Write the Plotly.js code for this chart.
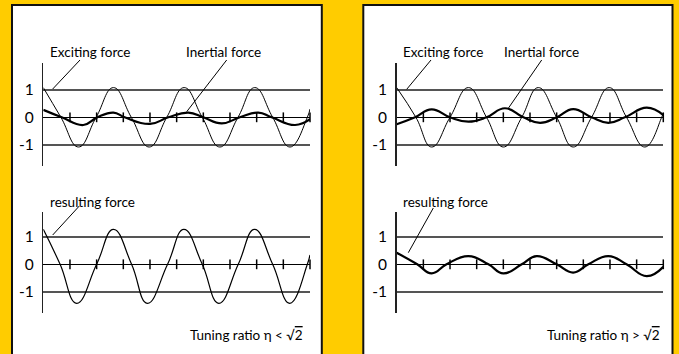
<!DOCTYPE html>
<html><head><meta charset="utf-8">
<script src="https://cdn.plot.ly/plotly-3.0.1.min.js"></script>
<style>html,body{margin:0;padding:0;background:#FFCC00;}</style>
</head><body><div id="chart" style="width:679px;height:354px;"></div>
<script>
// ---- data ----
const tickPositions = [1, 2, 3, 4, 5, 6, 7, 8, 9, 10];
const tickZeros = [0, 0, 0, 0, 0, 0, 0, 0, 0, 0];
const yTickValues = [-1, 0, 1];
const yTickLabels = ['-1', '0', '1'];

// Left panel (eta < sqrt2)
const excitingLeftX = [0, 0.66, 1.32, 1.98, 2.63, 3.3, 3.97, 4.63, 5.28, 5.96, 6.62, 7.3, 7.93, 8.6, 9.25, 9.9, 10];
const excitingLeftY = [1.08, 0, -1.08, 0, 1.08, 0, -1.08, 0, 1.08, 0, -1.08, 0, 1.08, 0, -1.08, 0, 0.3];
const inertialLeftX = [0, 0.69, 1.5, 2.03, 2.63, 3.05, 4.0, 4.69, 5.44, 6.0, 6.69, 7.37, 8.06, 8.56, 9.44, 10];
const inertialLeftY = [0.27, 0, -0.28, 0, 0.17, 0, -0.24, 0, 0.17, 0, -0.22, 0, 0.17, 0, -0.28, -0.07];
const resultingLeftX = [0, 0.63, 1.25, 2.0, 2.63, 3.31, 3.9, 4.66, 5.27, 5.96, 6.58, 7.31, 7.92, 8.6, 9.24, 9.9, 10];
const resultingLeftY = [1.27, 0, -1.42, 0, 1.27, 0, -1.42, 0, 1.27, 0, -1.42, 0, 1.27, 0, -1.42, 0, 0.34];

// Right panel (eta > sqrt2)
const excitingRightX = [0, 0.72, 1.31, 2.0, 2.69, 3.37, 4.0, 4.69, 5.31, 6.0, 6.62, 7.31, 7.97, 8.62, 9.31, 9.94, 10];
const excitingRightY = [1.08, 0, -1.08, 0, 1.08, 0, -1.08, 0, 1.08, 0, -1.08, 0, 1.08, 0, -1.08, 0, 0.15];
const inertialRightX = [0, 0.69, 1.31, 2.0, 2.69, 3.37, 4.06, 4.75, 5.38, 6.0, 6.62, 7.31, 7.94, 8.56, 9.38, 10];
const inertialRightY = [-0.25, 0, 0.29, 0, -0.16, 0, 0.33, 0, -0.2, 0, 0.3, 0, -0.2, 0, 0.35, 0.08];
const resultingRightX = [0, 0.77, 1.31, 1.87, 2.69, 3.44, 4.0, 4.69, 5.25, 6.0, 6.62, 7.19, 7.94, 8.62, 9.38, 10];
const resultingRightY = [0.42, 0, -0.33, 0, 0.3, 0, -0.33, 0, 0.3, 0, -0.3, 0, 0.3, 0, -0.43, -0.09];

const labelExciting = 'Exciting force';
const labelInertial = 'Inertial force';
const labelResulting = 'resulting force';
const labelTuningLeft = 'Tuning ratio \u03B7 < \u221A<span style="text-decoration:overline">2</span>';
const labelTuningRight = 'Tuning ratio \u03B7 > \u221A<span style="text-decoration:overline">2</span>';

// ---- layout helpers ----
const W = 679, H = 354;
const px = x => x / W;
const py = y => 1 - y / H;
const FONT = 'Lato, sans-serif';

function curve(x, y, ax, width) {
  return {x: x, y: y, xaxis: ax[0], yaxis: ax[1], type: 'scatter', mode: 'lines',
    line: {color: '#000', width: width, shape: 'spline', smoothing: 1.3},
    hoverinfo: 'skip', showlegend: false};
}
function ticks(ax) {
  return {x: tickPositions, y: tickZeros, xaxis: ax[0], yaxis: ax[1], type: 'scatter', mode: 'markers',
    marker: {symbol: 'line-ns-open', size: 7, color: '#000', line: {color: '#000', width: 1.5}},
    cliponaxis: false, hoverinfo: 'skip', showlegend: false};
}

const A1 = ['x', 'y'], A2 = ['x2', 'y2'], A3 = ['x3', 'y3'], A4 = ['x4', 'y4'];
const data = [
  ticks(A1), curve(excitingLeftX, excitingLeftY, A1, 1), curve(inertialLeftX, inertialLeftY, A1, 2.2),
  ticks(A2), curve(resultingLeftX, resultingLeftY, A2, 1.2),
  ticks(A3), curve(excitingRightX, excitingRightY, A3, 1), curve(inertialRightX, inertialRightY, A3, 2.2),
  ticks(A4), curve(resultingRightX, resultingRightY, A4, 2.2)
];

const xLeft = [px(43.3), px(310)], xRight = [px(396.7), px(663.3)];
const yTop = [py(166), py(63)], yBot = [py(313.3), py(211.7)];
const rTop = [-(166 - 117.3) / 27.5, (117.3 - 63) / 27.5];
const rBot = [-(313.3 - 264.3) / 27.5, (264.3 - 211.7) / 27.5];

function xa(dom, anchor) { return {domain: dom, range: [0, 10], visible: false, anchor: anchor, fixedrange: true}; }
function ya(dom, rng, anchor) {
  return {domain: dom, range: rng, anchor: anchor, tickvals: yTickValues, ticktext: yTickLabels,
    showgrid: true, gridcolor: '#555', gridwidth: 1.5, zeroline: true, zerolinecolor: '#000', zerolinewidth: 1.3,
    showline: true, linecolor: '#222', linewidth: 1.5, ticks: '', ticklabelstandoff: 5,
    tickfont: {family: FONT, size: 15.5, color: '#000'}, fixedrange: true};
}

function txt(text, x, y, anchor) {
  return {text: text, xref: 'paper', yref: 'paper', x: px(x), y: py(y), xanchor: anchor || 'left', yanchor: 'middle',
    showarrow: false, font: {family: FONT, size: 13.5, color: '#000'}};
}
function seg(x0, y0, x1, y1) {
  return {type: 'line', xref: 'paper', yref: 'paper', x0: px(x0), y0: py(y0), x1: px(x1), y1: py(y1),
    line: {color: '#000', width: 1}};
}
function panel(x0, x1) {
  return {type: 'rect', xref: 'paper', yref: 'paper', x0: px(x0), x1: px(x1), y0: -0.05, y1: py(5),
    fillcolor: '#fff', line: {color: '#111', width: 2}, layer: 'below'};
}

const layout = {
  width: W, height: H, margin: {l: 0, r: 0, t: 0, b: 0},
  paper_bgcolor: '#FFCC00', plot_bgcolor: 'rgba(0,0,0,0)', showlegend: false,
  xaxis: xa(xLeft, 'y'), yaxis: ya(yTop, rTop, 'x'),
  xaxis2: xa(xLeft, 'y2'), yaxis2: ya(yBot, rBot, 'x2'),
  xaxis3: xa(xRight, 'y3'), yaxis3: ya(yTop, rTop, 'x3'),
  xaxis4: xa(xRight, 'y4'), yaxis4: ya(yBot, rBot, 'x4'),
  shapes: [
    panel(12, 321.8), panel(363.3, 672.5),
    seg(80, 60, 52.7, 89), seg(226.7, 60, 186.7, 111.7), seg(79.3, 206, 52.7, 235),
    seg(431, 60, 406.7, 89.3), seg(541.7, 60, 508.3, 108.3), seg(433.3, 208, 408.3, 252.7)
  ],
  annotations: [
    txt(labelExciting, 48, 52), txt(labelInertial, 184, 52), txt(labelResulting, 48, 202),
    txt(labelTuningLeft, 305, 335, 'right'),
    txt(labelExciting, 401, 52), txt(labelInertial, 502, 52), txt(labelResulting, 401, 202),
    txt(labelTuningRight, 662, 335, 'right')
  ]
};

Plotly.newPlot('chart', data, layout, {displayModeBar: false, staticPlot: true});
</script></body></html>
